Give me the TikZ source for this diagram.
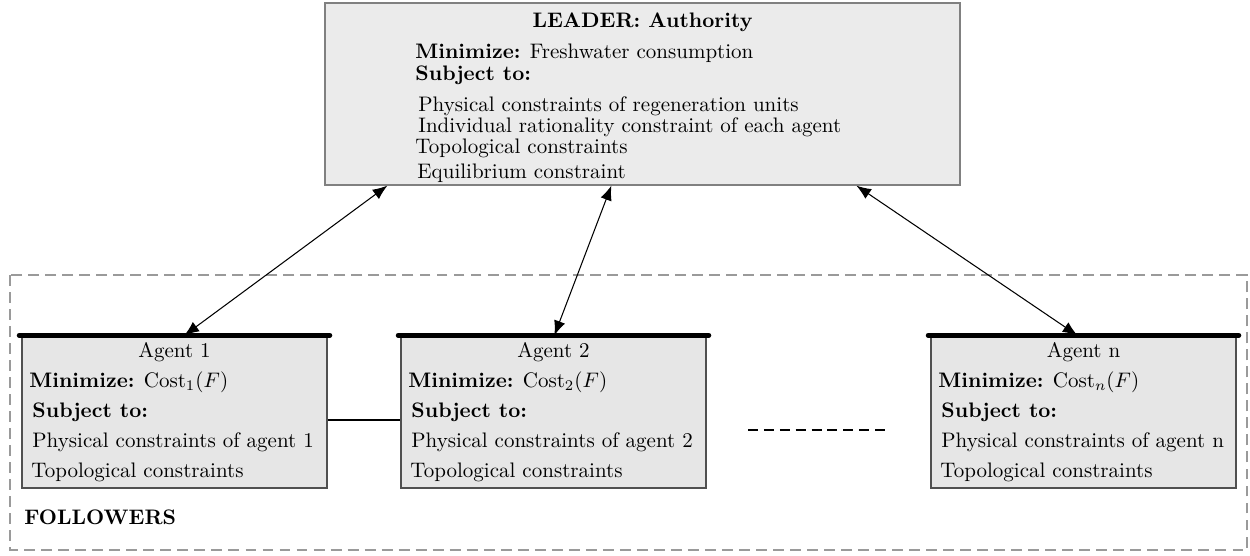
\documentclass[tikz,border=0pt]{standalone}
\usetikzlibrary{arrows.meta,calc}
\newcommand\px{0.476pt}
\definecolor{leaderfill}{HTML}{EBEBEB}
\definecolor{agentfill}{HTML}{E6E6E6}
\definecolor{leaderdraw}{HTML}{808080}
\definecolor{agentdraw}{HTML}{505050}
\definecolor{framegray}{HTML}{9A9A9A}
\tikzset{
  leaderbox/.style={draw=leaderdraw,fill=leaderfill,line width=0.6pt,minimum width=635*\px,minimum height=182*\px,inner sep=0pt},
  agentbox/.style={draw=agentdraw,fill=agentfill,line width=0.6pt,minimum width=305*\px,minimum height=152*\px,inner sep=0pt},
  topbar/.style={line width=2.4pt,line cap=round,black},
  txt/.style={anchor=base west,inner sep=0pt},
  ctxt/.style={anchor=base,inner sep=0pt},
  link/.style={line width=0.5pt,{Latex[length=7pt,width=5.5pt]}-{Latex[length=7pt,width=5.5pt]}},
  frame/.style={draw=framegray,line width=0.6pt,dash pattern=on 5.2pt off 2.9pt},
  dots/.style={line width=0.5pt,dash pattern=on 4.76pt off 2.8pt}
}
\newcommand\agentbox[4]{%
  % #1 name, #2 left x, #3 label, #4 subscript
  \node[agentbox] (#1) at (#2+152.5,412) {};
  \node[ctxt] (#1t) at (#2+152.5,357) {Agent #3};
  \node[txt] (#1m) at (#2+7,387) {\textbf{Minimize:} $\mathrm{Cost}_{#4}(F)$};
  \node[txt] (#1s) at (#2+10,417) {\textbf{Subject to:}};
  \node[txt] (#1p) at (#2+10,447) {Physical constraints of agent #3};
  \node[txt] (#1c) at (#2+9,477) {Topological constraints};
}
\begin{document}
\begin{tikzpicture}[x=\px,y=-\px]
\useasboundingbox (0,0) rectangle (1250,555);
% followers frame
\draw[frame] (10,275) rectangle (1247,550);
\node[txt,font=\bfseries] (fol) at (24,524) {FOLLOWERS};
% leader
\node[leaderbox] (leader) at (642.5,94) {};
\node[ctxt,font=\bfseries] (lt) at (642.5,28) {LEADER: Authority};
\node[txt] (lm) at (415,59) {\textbf{Minimize:} Freshwater consumption};
\node[txt] (ls) at (415,81) {\textbf{Subject to:}};
\node[txt] (l1) at (418,112) {Physical constraints of regeneration units};
\node[txt] (l2) at (418,133) {Individual rationality constraint of each agent};
\node[txt] (l3) at (415,154) {Topological constraints};
\node[txt] (l4) at (417,179) {Equilibrium constraint};
% agents
\agentbox{a1}{22}{1}{1}
\agentbox{a2}{401}{2}{2}
\agentbox{an}{931}{n}{n}
% connectors
\draw[link] ($(leader.south west)+(63,0)$) -- ($(a1.north west)+(163,0)$);
\draw[link] ($(leader.south west)+(287,0)$) -- ($(a2.north west)+(154,0)$);
\draw[link] ($(leader.south west)+(532,0)$) -- ($(an.north west)+(147,0)$);
\draw[line width=0.5pt] ([yshift=-8*\px]a1.east) -- ([yshift=-8*\px]a2.west);
\coordinate (d1) at (748,430);
\coordinate (d2) at (885,430);
\draw[dots] (d1) -- (d2);
% top bars
\foreach \a in {a1,a2,an}{
  \draw[topbar] ([xshift=-1pt]\a.north west) -- ([xshift=1pt]\a.north east);
}
\end{tikzpicture}
\end{document}
